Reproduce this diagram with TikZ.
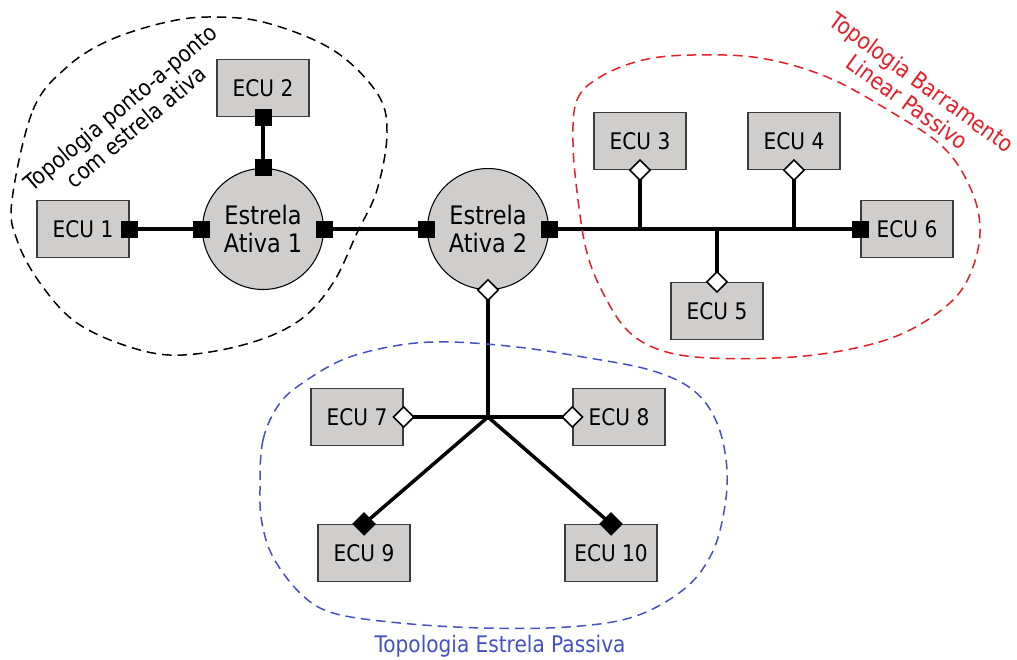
\documentclass[tikz,border=0pt]{standalone}
\usepackage{fontspec}
\setmainfont{DejaVu Sans}[FakeStretch=0.88]
\usetikzlibrary{shapes.geometric,backgrounds}
\definecolor{boxgray}{RGB}{208,206,204}
\definecolor{edgegray}{RGB}{60,60,60}
\definecolor{busred}{RGB}{232,28,36}
\definecolor{starblue}{RGB}{68,80,196}
\begin{document}
\begin{tikzpicture}[x=0.02cm,y=-0.02cm,
  ecu/.style={draw=edgegray, line width=0.7pt, fill=boxgray,
    minimum width=1.84cm, minimum height=1.14cm, inner sep=0pt,
    font=\fontsize{13}{15}\selectfont},
  hubnode/.style={circle, draw=black, line width=0.6pt, fill=boxgray,
    minimum size=2.42cm, inner sep=0pt, align=center,
    font=\fontsize{14.5}{15.5}\selectfont},
  sqport/.style={fill=black, minimum size=0.34cm, inner sep=0pt},
  wdport/.style={diamond, draw=black, fill=white, line width=0.9pt,
    minimum size=0.42cm, inner sep=0pt},
  bdport/.style={diamond, fill=black, minimum size=0.48cm, inner sep=0pt},
  wire/.style={line width=2pt},
  zone/.style={dash pattern=on 5.4pt off 3.4pt, line width=0.85pt},
  zonelabel/.style={align=center, font=\fontsize{13}{14}\selectfont}]
\useasboundingbox (0,0) rectangle (1017,659);

% ECU boxes
\node[ecu] (e1) at (83,229) {ECU 1};
\node[ecu] (e2) at (263,88) {ECU 2};
\node[ecu] (e3) at (640,141) {ECU 3};
\node[ecu] (e4) at (794,141) {ECU 4};
\node[ecu] (e5) at (717,311) {ECU 5};
\node[ecu] (e6) at (907,229) {ECU 6};
\node[ecu] (e7) at (357,417) {ECU 7};
\node[ecu] (e8) at (619,417) {ECU 8};
\node[ecu] (e9) at (364,553) {ECU 9};
\node[ecu] (e10) at (611,553) {ECU 10};

% active stars
\node[hubnode] (a1) at (263,229) {Estrela\\Ativa 1};
\node[hubnode] (a2) at (488,229) {Estrela\\Ativa 2};

% ports: filled squares (point-to-point), diamonds (passive)
\node[sqport] (s1) at (e1.east) {};
\node[sqport] (s2a) at (a1.west) {};
\node[sqport] (s2b) at (e2.south) {};
\node[sqport] (s2c) at (a1.north) {};
\node[sqport] (s3a) at (a1.east) {};
\node[sqport] (s3b) at (a2.west) {};
\node[sqport] (s4) at (a2.east) {};
\node[sqport] (s6) at (e6.west) {};
\node[wdport] (d3) at (e3.south) {};
\node[wdport] (d4) at (e4.south) {};
\node[wdport] (d5) at (e5.north) {};
\node[wdport] (d2) at (a2.south) {};
\node[wdport] (d7) at (e7.east) {};
\node[wdport] (d8) at (e8.west) {};
\node[bdport] (b9) at (e9.north) {};
\node[bdport] (b10) at (e10.north) {};

% junction points
\coordinate (j3) at (d3 |- s4);
\coordinate (j4) at (d4 |- s4);
\coordinate (j5) at (d5 |- s4);
\coordinate (hub) at (d2 |- d7);

\begin{scope}[on background layer]
  % wiring
  \draw[wire] (s1.center) -- (s2a.center);
  \draw[wire] (s2b.center) -- (s2c.center);
  \draw[wire] (s3a.center) -- (s3b.center);
  \draw[wire] (s4.center) -- (s6.center);
  \draw[wire] (d3.center) -- (j3);
  \draw[wire] (d4.center) -- (j4);
  \draw[wire] (d5.center) -- (j5);
  \draw[wire] (d2.center) -- (hub);
  \draw[wire] (d7.center) -- (d8.center);
  \draw[wire] (hub) -- (b9.center);
  \draw[wire] (hub) -- (b10.center);

  % topology zones
  \draw[zone, black] plot[smooth cycle, tension=0.6] coordinates {
    (12,200) (33,110) (67,67) (110,40) (167,22) (213,17) (267,23)
    (333,50) (377,93) (387,133) (377,190) (357,233) (333,283)
    (300,320) (250,343) (183,355) (133,348) (77,323) (40,283) (17,240)};
  \draw[zone, busred] plot[smooth cycle, tension=0.6] coordinates {
    (573,143) (577,100) (600,77) (643,60) (693,55) (760,58) (827,77)
    (893,113) (943,147) (970,187) (980,227) (973,267) (953,300)
    (910,330) (860,347) (793,357) (710,358) (660,350) (627,330)
    (603,293) (587,253) (578,200)};
  \draw[zone, starblue] plot[smooth cycle, tension=0.6] coordinates {
    (260,490) (263,440) (280,403) (307,380) (347,358) (400,345)
    (450,342) (517,347) (583,357) (650,370) (693,390) (717,423)
    (727,470) (723,517) (710,557) (683,590) (633,617) (567,627)
    (483,628) (400,623) (333,613) (300,593) (273,557) (262,523)};
\end{scope}

% zone labels
\node[zonelabel, black, rotate=40] (lp2p) at (128,117) {Topologia ponto-a-ponto\\com estrela ativa};
\node[zonelabel, busred, rotate=-36] (lbus) at (915,92) {Topologia Barramento\\Linear Passivo};
\node[zonelabel, starblue] (lstar) at (500,646) {Topologia Estrela Passiva};
\end{tikzpicture}
\end{document}
